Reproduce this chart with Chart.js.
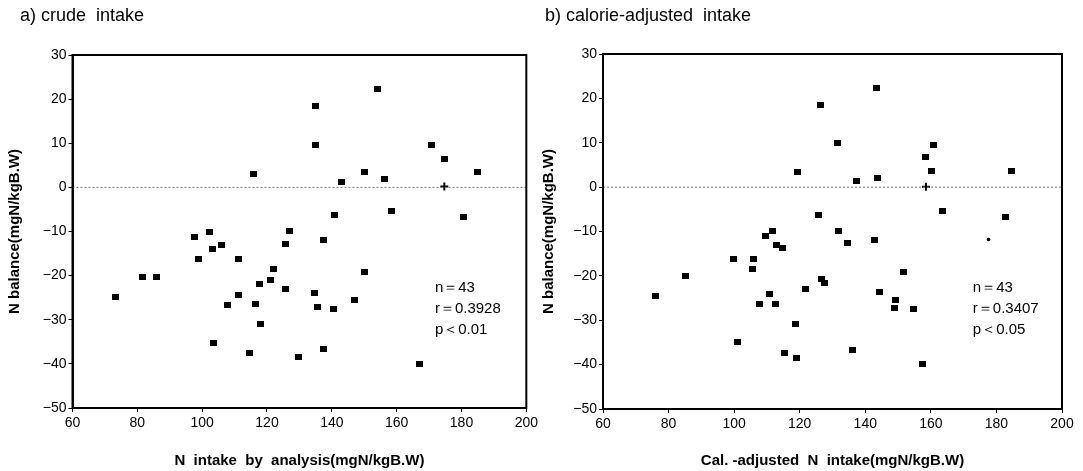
<!DOCTYPE html>
<html>
<head>
<meta charset="utf-8">
<title>N balance vs N intake</title>
<script src="https://cdn.jsdelivr.net/npm/chart.js@4.4.0/dist/chart.umd.min.js"></script>
<style>
  body { margin: 0; background: #fff; }
  #wrap { position: relative; width: 1083px; height: 471px; }
  .panel { position: absolute; top: 0; }
</style>
</head>
<body>
<div id="wrap">
  <canvas id="crudeChart" class="panel" width="541" height="471" style="left:0"></canvas>
  <canvas id="calChart" class="panel" width="542" height="471" style="left:541px"></canvas>
</div>
<script>
// axis ticks
const xTicks = [60, 80, 100, 120, 140, 160, 180, 200];
const yTicks = [-50, -40, -30, -20, -10, 0, 10, 20, 30];
const zeroLine = [60, 200];

// a) crude intake
const crudeIntake = [73.2, 81.5, 85.8, 97.6, 98.9, 102.4, 103.1, 106.1, 103.4, 107.8,
  111.2, 111.3, 114.7, 115.9, 116.4, 117.6, 118.0, 122.0, 121.1, 134.9,
  134.9, 154.1, 127.0, 125.8, 125.8, 129.7, 137.3, 140.9, 143.1, 134.8,
  135.5, 140.5, 137.3, 147.1, 150.0, 150.1, 156.2, 158.4, 167.1, 170.8,
  174.8, 180.7, 184.9];
const crudeBalance = [-24.9, -20.4, -20.4, -11.2, -16.3, -10.2, -13.9, -13.1, -35.2, -26.6,
  -16.3, -24.3, -37.6, 3.1, -26.5, -21.9, -31.0, -18.5, -21.0, 18.5,
  9.7, 22.3, -9.9, -12.8, -23.1, -38.4, -11.9, -6.2, 1.2, -23.9,
  -27.2, -27.5, -36.7, -25.6, -19.1, 3.5, 2.0, -5.3, -40.0, 9.5,
  6.5, -6.8, 3.5];
const crudeCross = [174.7, 0.2];
const crudeStats = ['n\uFF1D43', 'r\uFF1D0.3928', 'p\uFF1C0.01'];

// b) calorie-adjusted intake
const calIntake = [76.1, 85.1, 99.8, 100.9, 105.6, 105.9, 107.6, 109.5, 111.6, 110.7,
  113.0, 114.6, 112.7, 115.4, 118.6, 119.1, 119.2, 121.8, 126.2, 125.8,
  126.7, 127.7, 143.5, 131.4, 131.7, 134.6, 137.3, 143.7, 142.9, 144.4,
  151.6, 149.2, 148.8, 154.7, 136.2, 157.6, 158.5, 160.9, 160.3, 163.4,
  182.9, 184.5];
const calBalance = [-24.6, -20.1, -16.1, -35.0, -18.5, -16.1, -26.4, -11.0, -9.9, -24.1,
  -13.0, -13.7, -26.4, -37.4, -30.9, -38.4, 3.4, -22.9, 18.5, -6.2,
  -20.8, -21.6, 22.3, 9.9, -9.9, -12.7, 1.4, 2.1, -11.9, -23.6,
  -19.1, -25.5, -27.2, -27.4, -36.7, -39.9, 6.7, 9.6, 3.7, -5.3,
  -6.8, 3.7];
const calCross = [158.5, 0.1];
const calDot = [177.6, -11.8];
const calStats = ['n\uFF1D43', 'r\uFF1D0.3407', 'p\uFF1C0.05'];

const FONT = '"Liberation Sans", Arial, sans-serif';

// small filled block used as the point marker
const marker = document.createElement('canvas');
marker.width = 7;
marker.height = 6;
const mctx = marker.getContext('2d');
mctx.fillStyle = '#000';
mctx.fillRect(0, 0, 7, 6);

const toPoints = (xs, ys) => xs.map((x, i) => ({ x: x, y: ys[i] }));

// frame around the plot, panel heading and the n / r / p block
const panelText = {
  id: 'panelText',
  afterDatasetsDraw(chart, args, opts) {
    const { ctx, chartArea: a, scales: { x, y } } = chart;
    ctx.save();
    ctx.strokeStyle = '#000';
    ctx.lineWidth = 2;
    ctx.strokeRect(a.left, a.top, a.width, a.height);
    ctx.fillStyle = '#000';
    ctx.textAlign = 'left';
    ctx.textBaseline = 'middle';
    ctx.font = '18px ' + FONT;
    ctx.fillText(opts.heading, opts.headingX, 16);
    ctx.font = '15px ' + FONT;
    opts.stats.forEach((s, i) => {
      ctx.fillText(s, x.getPixelForValue(opts.statX), y.getPixelForValue(opts.statY[i]));
    });
    ctx.restore();
  }
};

function makePanel(id, p) {
  const datasets = [{
    type: 'line',
    data: zeroLine.map(v => ({ x: v, y: 0 })),
    borderColor: '#777',
    borderWidth: 1,
    borderDash: [2, 2],
    pointRadius: 0
  }, {
    data: toPoints(p.xs, p.ys),
    pointStyle: marker,
    backgroundColor: '#000'
  }, {
    data: [{ x: p.cross[0], y: p.cross[1] }],
    pointStyle: 'cross',
    pointRadius: 4,
    borderColor: '#000',
    borderWidth: 2
  }];
  if (p.dot) {
    datasets.push({
      data: [{ x: p.dot[0], y: p.dot[1] }],
      pointStyle: 'circle',
      pointRadius: 1.8,
      backgroundColor: '#000',
      borderWidth: 0
    });
  }

  new Chart(document.getElementById(id), {
    type: 'scatter',
    data: { datasets },
    plugins: [panelText],
    options: {
      responsive: false,
      animation: false,
      layout: { padding: { top: p.top, right: p.right, left: 0, bottom: 0 } },
      plugins: {
        legend: { display: false },
        tooltip: { enabled: false },
        panelText: {
          heading: p.heading,
          headingX: p.headingX,
          stats: p.stats,
          statX: p.statX,
          statY: [-22.7, -27.5, -32.2]
        }
      },
      scales: {
        x: {
          type: 'linear',
          min: xTicks[0],
          max: xTicks[xTicks.length - 1],
          afterBuildTicks: s => { s.ticks = xTicks.map(v => ({ value: v })); },
          ticks: { color: '#000', font: { family: FONT, size: 14 }, padding: 3, maxRotation: 0 },
          grid: { drawOnChartArea: false, drawTicks: true, tickLength: 4, color: '#000' },
          border: { display: true, color: '#000', width: 2 },
          title: {
            display: true,
            text: p.xTitle,
            color: '#000',
            font: { family: FONT, size: 15, weight: 'bold', lineHeight: 1 },
            padding: { top: 0, bottom: 3 }
          },
          afterFit: s => { s.height = 471 - 408 + p.top - 55; }
        },
        y: {
          type: 'linear',
          min: yTicks[0],
          max: yTicks[yTicks.length - 1],
          afterBuildTicks: s => { s.ticks = yTicks.map(v => ({ value: v })); },
          ticks: {
            color: '#000',
            font: { family: FONT, size: 14 },
            padding: 2,
            callback: v => v < 0 ? '\u2212' + Math.abs(v) : String(v)
          },
          grid: { drawOnChartArea: false, drawTicks: true, tickLength: 4, color: '#000' },
          border: { display: true, color: '#000', width: 2 },
          title: {
            display: true,
            text: 'N balance(mgN/kgB.W)',
            color: '#000',
            font: { family: FONT, size: 15, weight: 'bold', lineHeight: 1 },
            padding: { top: p.yTitlePad, bottom: 0 }
          },
          afterFit: s => { s.width = p.yWidth; }
        }
      }
    }
  });
}

makePanel('crudeChart', {
  xs: crudeIntake, ys: crudeBalance, cross: crudeCross, dot: null,
  heading: 'a) crude  intake', headingX: 20,
  xTitle: 'N  intake  by  analysis(mgN/kgB.W)',
  stats: crudeStats, statX: 171.8,
  top: 55, right: 11, yWidth: 72.5, yTitlePad: 7.5
});

makePanel('calChart', {
  xs: calIntake, ys: calBalance, cross: calCross, dot: calDot,
  heading: 'b) calorie-adjusted  intake', headingX: 4,
  xTitle: 'Cal. -adjusted  N  intake(mgN/kgB.W)',
  stats: calStats, statX: 172.8,
  top: 54, right: 21, yWidth: 62, yTitlePad: 0.5
});
</script>
</body>
</html>
